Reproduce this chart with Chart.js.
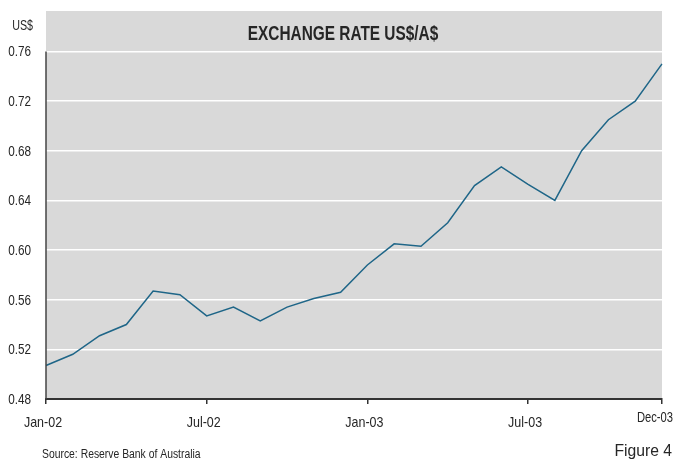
<!DOCTYPE html>
<html>
<head>
<meta charset="utf-8">
<script src="https://cdn.jsdelivr.net/npm/chart.js@4"></script>
<style>
  html, body { margin: 0; padding: 0; background: #fff; }
  #wrap { width: 677px; height: 460px; position: relative; }
</style>
</head>
<body>
<div id="wrap"><canvas id="fxChart" width="677" height="460"></canvas></div>
<script>
// monthly observations, Jan-02 .. Dec-03
const months = [
  "Jan-02", "Feb-02", "Mar-02", "Apr-02", "May-02", "Jun-02",
  "Jul-02", "Aug-02", "Sep-02", "Oct-02", "Nov-02", "Dec-02",
  "Jan-03", "Feb-03", "Mar-03", "Apr-03", "May-03", "Jun-03",
  "Jul-03", "Aug-03", "Sep-03", "Oct-03", "Nov-03", "Dec-03",
];
const usdPerAud = [
  0.507, 0.516, 0.531, 0.540, 0.567, 0.564,
  0.547, 0.554, 0.543, 0.554, 0.561, 0.566,
  0.588, 0.605, 0.603, 0.622, 0.652, 0.667,
  0.653, 0.640, 0.680, 0.705, 0.720, 0.750,
];
const xTickLabels = ["Jan-02", "Jul-02", "Jan-03", "Jul-03", "Dec-03"];
const yTicks = [0.48, 0.52, 0.56, 0.60, 0.64, 0.68, 0.72, 0.76];

const FONT = "'Liberation Sans', Arial, sans-serif";
const TEXT = "#262626";

// narrow text: no condensed face installed, so squeeze Liberation Sans
function narrowText(ctx, str, x, y, size, opts = {}) {
  const sx = opts.sx || 0.84;
  ctx.save();
  ctx.font = (opts.bold ? "bold " : "") + size + "px " + FONT;
  ctx.fillStyle = TEXT;
  ctx.textAlign = opts.align || "left";
  ctx.textBaseline = "middle";
  ctx.translate(x, y);
  ctx.scale(sx, 1);
  ctx.fillText(str, 0, 0);
  ctx.restore();
}

// gray plot background
const plotBg = {
  id: "plotBg",
  beforeDraw(chart) {
    const { ctx, chartArea: a } = chart;
    ctx.save();
    ctx.fillStyle = "#d9d9d9";
    ctx.fillRect(a.left, a.top, a.right - a.left, a.bottom - a.top);
    ctx.restore();
  },
};

// title, axis labels, left axis line, footer
const decorations = {
  id: "decorations",
  afterDraw(chart) {
    const { ctx, chartArea: a } = chart;
    const x = chart.scales.x;
    const y = chart.scales.y;

    // left axis line from top tick down to the x axis
    ctx.save();
    ctx.strokeStyle = "#444";
    ctx.lineWidth = 1.5;
    ctx.beginPath();
    ctx.moveTo(a.left, y.getPixelForValue(yTicks[yTicks.length - 1]));
    ctx.lineTo(a.left, a.bottom);
    ctx.stroke();
    ctx.restore();

    narrowText(ctx, "EXCHANGE RATE US$/A$", 343, 35, 19.5, { bold: true, align: "center", sx: 0.79 });
    narrowText(ctx, "US$", 33, 25.5, 14.5, { align: "right", sx: 0.74 });

    yTicks.forEach((v) => {
      narrowText(ctx, v.toFixed(2), 31, y.getPixelForValue(v) + 1, 14.5, { align: "right", sx: 0.81 });
    });

    xTickLabels.forEach((lbl, i) => {
      if (i === xTickLabels.length - 1) {
        narrowText(ctx, lbl, 673, 418, 14, { align: "right", sx: 0.8 });
      } else {
        narrowText(ctx, lbl, x.getPixelForValue(months.indexOf(lbl)) - 3, 422.5, 14.5, { align: "center", sx: 0.86 });
      }
    });

    narrowText(ctx, "Source: Reserve Bank of Australia", 42, 455, 12.5, { sx: 0.83 });
    narrowText(ctx, "Figure 4", 672, 451.5, 16, { align: "right", sx: 0.98 });
  },
};

new Chart(document.getElementById("fxChart"), {
  type: "line",
  data: {
    labels: months,
    datasets: [
      {
        data: usdPerAud,
        borderColor: "#1f6688",
        borderWidth: 1.5,
        pointRadius: 0,
        tension: 0,
        fill: false,
      },
    ],
  },
  options: {
    responsive: false,
    animation: false,
    devicePixelRatio: 1,
    layout: { padding: { top: 11, right: 15, left: 0, bottom: 0 } },
    plugins: { legend: { display: false }, tooltip: { enabled: false } },
    scales: {
      x: {
        offset: false,
        afterBuildTicks: (s) => {
          s.ticks = xTickLabels.map((l) => ({ value: months.indexOf(l) }));
        },
        afterFit: (s) => { s.height = 61; s.paddingLeft = 0; s.paddingRight = 0; },
        ticks: { display: false, autoSkip: false },
        grid: {
          drawOnChartArea: false,
          drawTicks: true,
          tickLength: 5,
          color: "#333",
          lineWidth: 1.5,
        },
        border: { display: true, color: "#333", width: 2 },
      },
      y: {
        min: 0.48,
        max: 0.7926,
        afterBuildTicks: (s) => {
          s.ticks = yTicks.map((v) => ({ value: v }));
        },
        afterFit: (s) => { s.width = 46; s.paddingTop = 0; s.paddingBottom = 0; },
        ticks: { display: false },
        grid: { color: "#ffffff", lineWidth: 1.5, drawTicks: false },
        border: { display: false },
      },
    },
  },
  plugins: [plotBg, decorations],
});
</script>
</body>
</html>
